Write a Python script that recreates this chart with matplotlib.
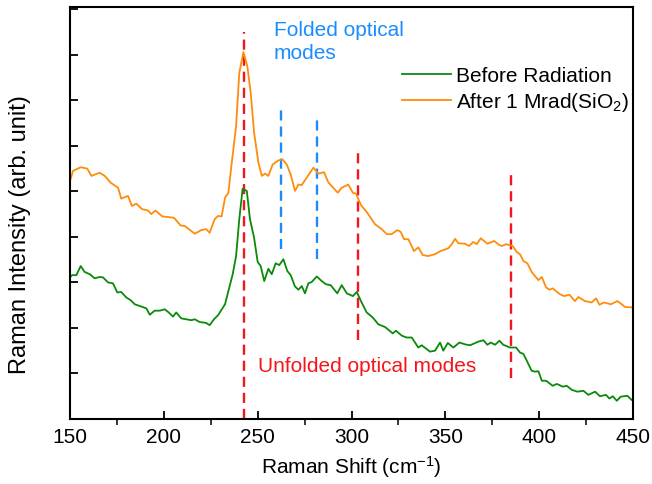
import matplotlib
matplotlib.use("Agg")
import matplotlib.pyplot as plt
from matplotlib.ticker import MultipleLocator

plt.rcParams["font.family"] = ["Liberation Sans", "DejaVu Sans"]
plt.rcParams["mathtext.fontset"] = "custom"
plt.rcParams["mathtext.rm"] = "Liberation Sans"
plt.rcParams["mathtext.it"] = "Liberation Sans"

# Raman spectra (x in cm^-1, intensity in arb. units)
after_x = [150.4, 151.6, 155.7, 159.2, 161.4, 165.8, 168.5, 171.7, 175.6, 177.3,
           180.9, 183.0, 185.3, 188.4, 191.6, 193.3, 195.5, 199.2, 205.4, 209.0,
           211.1, 216.5, 220.0, 222.6, 224.4, 227.1, 228.9, 230.8, 232.6, 234.4,
           236.2, 238.5, 240.2, 242.4, 244.5, 246.3, 248.1, 250.4, 252.2, 253.9,
           255.7, 258.0, 261.0, 263.3, 265.5, 267.6, 269.9, 271.7, 273.5, 276.1,
           279.7, 282.3, 285.4, 287.6, 292.7, 294.8, 298.3, 300.7, 302.4, 304.5,
           305.4, 308.4, 312.5, 316.1, 318.8, 321.4, 324.4, 326.2, 328.0, 330.3,
           333.3, 335.6, 338.0, 340.9, 344.5, 347.5, 351.6, 353.4, 355.2, 356.9,
           360.5, 362.6, 364.9, 366.7, 368.9, 372.4, 376.0, 378.8, 380.1, 382.3,
           385.9, 388.0, 389.8, 391.6, 393.7, 396.0, 399.6, 401.4, 403.7, 405.4,
           407.2, 411.1, 413.3, 416.1, 419.1, 420.9, 424.4, 428.0, 430.3, 432.1,
           434.6, 438.2, 441.7, 444.0, 445.8, 449.9]
after_y = [5.28, 5.45, 5.53, 5.50, 5.34, 5.41, 5.34, 5.19, 5.08, 4.84,
           4.90, 4.68, 4.73, 4.61, 4.58, 4.50, 4.58, 4.45, 4.42, 4.25,
           4.24, 4.07, 4.15, 4.17, 4.09, 4.39, 4.46, 4.45, 4.86, 4.97,
           5.63, 6.43, 7.60, 8.06, 7.75, 7.16, 6.29, 5.63, 5.34, 5.39,
           5.34, 5.59, 5.68, 5.70, 5.59, 5.37, 5.01, 5.15, 5.14, 5.30,
           5.52, 5.39, 5.42, 5.20, 4.97, 5.08, 5.15, 4.97, 4.95, 4.75,
           4.68, 4.53, 4.28, 4.17, 4.06, 4.06, 4.15, 4.11, 3.95, 3.95,
           3.69, 3.77, 3.60, 3.58, 3.62, 3.69, 3.75, 3.84, 3.96, 3.86,
           3.85, 3.80, 3.89, 3.84, 3.97, 3.85, 3.91, 3.82, 3.80, 3.84,
           3.80, 3.67, 3.62, 3.47, 3.42, 3.23, 3.05, 3.12, 2.89, 2.84,
           2.87, 2.74, 2.70, 2.73, 2.59, 2.68, 2.59, 2.56, 2.65, 2.51,
           2.56, 2.52, 2.59, 2.52, 2.46, 2.45]

before_x = [150.4, 151.1, 153.4, 155.7, 157.8, 160.5, 163.2, 165.8, 167.6, 170.3,
            172.9, 175.2, 177.3, 180.0, 182.3, 184.5, 188.0, 190.7, 192.5, 195.1,
            197.8, 200.5, 202.6, 204.9, 206.6, 209.3, 212.0, 214.6, 216.5, 219.1,
            222.6, 224.4, 226.7, 228.9, 232.6, 234.4, 236.7, 238.5, 240.2, 242.0,
            244.2, 245.9, 248.1, 250.0, 251.6, 253.5, 255.7, 257.5, 259.6, 261.5,
            263.7, 265.8, 267.6, 269.9, 271.7, 273.5, 275.2, 277.0, 278.8, 281.5,
            284.1, 286.4, 288.9, 292.4, 294.8, 297.5, 300.7, 302.8, 305.4, 308.1,
            311.3, 314.3, 317.9, 322.0, 323.7, 326.8, 329.4, 332.1, 335.6, 337.4,
            341.8, 344.5, 347.2, 348.9, 351.3, 354.3, 357.5, 360.5, 363.2, 367.6,
            370.3, 372.4, 374.2, 376.5, 378.8, 380.9, 384.5, 387.7, 389.8, 391.6,
            393.4, 396.0, 397.8, 399.6, 401.4, 403.7, 407.2, 409.4, 412.6, 414.7,
            417.4, 420.4, 423.6, 426.2, 429.8, 432.4, 435.6, 437.4, 439.2, 441.4,
            443.4, 447.0, 449.3]
before_y = [3.13, 3.16, 3.16, 3.36, 3.23, 3.18, 3.09, 3.12, 3.11, 3.00,
            2.98, 2.78, 2.79, 2.67, 2.61, 2.52, 2.47, 2.43, 2.29, 2.38,
            2.38, 2.41, 2.34, 2.25, 2.34, 2.21, 2.19, 2.17, 2.19, 2.13,
            2.11, 2.06, 2.19, 2.28, 2.52, 2.81, 3.18, 3.58, 4.39, 5.06,
            5.01, 4.39, 3.98, 3.45, 3.36, 3.03, 3.30, 3.18, 3.42, 3.38,
            3.51, 3.25, 3.16, 2.91, 2.84, 2.92, 2.76, 2.98, 3.01, 3.13,
            3.03, 2.96, 2.94, 2.76, 2.94, 2.76, 2.70, 2.79, 2.56, 2.34,
            2.23, 2.08, 2.02, 1.88, 1.94, 1.83, 1.79, 1.79, 1.57, 1.62,
            1.48, 1.50, 1.68, 1.50, 1.67, 1.57, 1.68, 1.64, 1.62, 1.70,
            1.73, 1.63, 1.68, 1.63, 1.72, 1.63, 1.57, 1.57, 1.46, 1.43,
            1.28, 1.06, 1.04, 1.05, 0.84, 0.84, 0.73, 0.77, 0.71, 0.73,
            0.64, 0.60, 0.62, 0.53, 0.60, 0.50, 0.53, 0.45, 0.50, 0.40,
            0.49, 0.51, 0.42]

# mode markers: position, lower end, upper end
unfolded_pos = [242.6, 303.3, 385.0]
unfolded_lo = [0.0, 1.74, 0.91]
unfolded_hi = [8.5, 5.88, 5.41]
folded_pos = [262.3, 281.5]
folded_lo = [3.73, 3.52]
folded_hi = [6.86, 6.67]

RED = "#f5161b"
BLUE = "#1a8cff"
W, H = 652, 485

fig = plt.figure(figsize=(W / 100, H / 100), dpi=100)
ax = fig.add_axes([70 / W, 1 - 420 / H, 563 / W, 412 / H])

for x, lo, hi in zip(unfolded_pos, unfolded_lo, unfolded_hi):
    ax.plot([x, x], [lo, hi], color=RED, lw=1.7, dashes=(4.3, 2.5), zorder=1)
for x, lo, hi in zip(folded_pos, folded_lo, folded_hi):
    ax.plot([x, x], [lo, hi], color=BLUE, lw=1.7, dashes=(4.3, 2.5), zorder=1)

ax.plot(before_x, before_y, color="#0a8a0a", lw=1.3, label="Before Radiation", zorder=2)
ax.plot(after_x, after_y, color="#ff8c0a", lw=1.3, label="After 1 Mrad(SiO$_2$)", zorder=2)

fig.text(274 / W, 1 - 42 / H, "Folded optical\nmodes", color=BLUE, fontsize=15,
         va="center", ha="left", linespacing=1.25)
fig.text(258 / W, 1 - 367 / H, "Unfolded optical modes", color=RED, fontsize=15,
         va="center", ha="left")

ax.legend(loc="upper left", bbox_to_anchor=(402 / W, 1 - 67 / H),
          bbox_transform=fig.transFigure, frameon=False, borderpad=0,
          borderaxespad=0, fontsize=15, handlelength=2.35, handletextpad=0.25,
          labelspacing=0.25)

ax.set_xlim(150, 450)
ax.set_ylim(0, 9.05)
ax.xaxis.set_major_locator(MultipleLocator(50))
ax.xaxis.set_minor_locator(MultipleLocator(25))
ax.yaxis.set_major_locator(MultipleLocator(1))
ax.set_yticklabels([])
ax.tick_params(direction="in", width=1.3, labelsize=15)
ax.tick_params(axis="x", which="major", length=6, pad=6)
ax.tick_params(axis="x", which="minor", length=4, width=1.1)
ax.tick_params(axis="y", length=6)
for s in ax.spines.values():
    s.set_linewidth(1.5)

ax.set_xlabel("Raman Shift (cm$^{-1}$)", fontsize=15)
ax.xaxis.set_label_coords(351 / W, 1 - 467 / H, transform=fig.transFigure)
ax.xaxis.label.set_va("center")
ax.set_ylabel("Raman Intensity (arb. unit)", fontsize=17)
ax.yaxis.set_label_coords(20 / W, 1 - 235 / H, transform=fig.transFigure)
ax.yaxis.label.set_va("center")

fig.savefig("out.png", dpi=100)
